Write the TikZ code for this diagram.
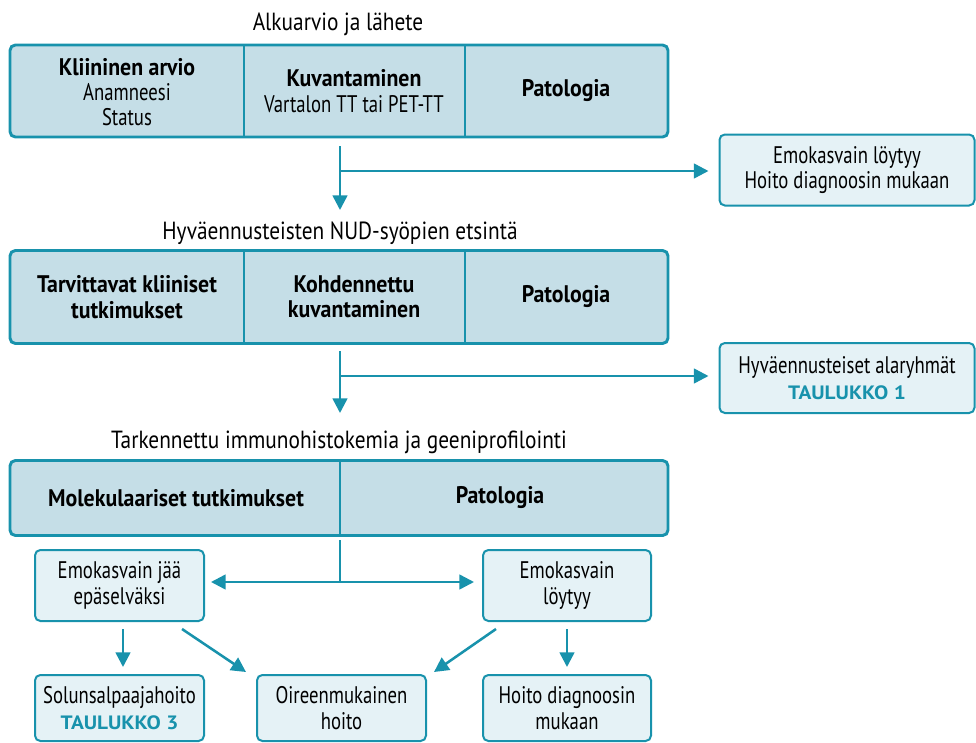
\documentclass[tikz,border=0pt]{standalone}
\usepackage{fontspec}
\setmainfont{PT Sans}[FakeStretch=0.78,BoldFeatures={FakeStretch=0.91}]
\newfontfamily\titlefont{PT Sans}[FakeStretch=0.86]
\newfontfamily\tablefont{PT Sans}[FakeStretch=1.1]
\usetikzlibrary{arrows.meta}
\definecolor{tealline}{RGB}{24,146,172}
\definecolor{cellfill}{RGB}{197,222,231}
\definecolor{notefill}{RGB}{229,242,246}

\begin{document}
\begin{tikzpicture}[x=0.75pt,y=-0.75pt]

\def\px{0.75pt}

\tikzstyle{stage}=[rectangle,draw=tealline,line width=2.2pt,fill=cellfill,rounded corners=4pt,minimum width=658*\px,inner sep=0pt]
\tikzstyle{cell}=[align=center,inner sep=0pt]
\tikzstyle{heading}=[font=\titlefont\fontsize{18.6pt}{20pt}\selectfont]
\tikzstyle{note}=[rectangle,draw=tealline,line width=1.5pt,fill=notefill,rounded corners=4pt,align=center,inner sep=0pt]
\tikzstyle{divider}=[draw=tealline,line width=1.1pt]
\tikzstyle{flow}=[draw=tealline,line width=1.9pt,-{Triangle[length=11pt,width=11pt]}]
\tikzstyle{branch}=[draw=tealline,line width=1.9pt]

\useasboundingbox (0,0) rectangle (976,743);
\tikzset{every node/.style={font=\fontsize{18pt}{19pt}\selectfont}}
\newcommand{\taulukko}[1]{{\tablefont\bfseries\fontsize{14.5pt}{19pt}\selectfont\color{tealline}TAULUKKO #1}}

%Alkuarvio
\node[heading] (title1) at (338,24) {Alkuarvio ja lähete};
\node[stage,minimum height=92*\px] (stage1) at (339,91) {};
\draw[divider] (244,46) -- (244,136);
\draw[divider] (465,46) -- (465,136);
\node[cell] (clinical) at (127,92) {\textbf{Kliininen arvio}\\Anamneesi\\Status};
\node[cell] (imaging) at (354,91) {\textbf{Kuvantaminen}\\Vartalon TT tai PET-TT};
\node[cell] (patho1) at (566,91) {\textbf{Patologia}};

\node[note,minimum width=255*\px,minimum height=71*\px] (found1) at (847,170) {Emokasvain löytyy\\Hoito diagnoosin mukaan};

\coordinate (stem1) at (340,146);
\coordinate (split1) at (340,171);
\draw[flow] (stem1) -- (340,210);
\draw[flow,shorten >=10*\px] (split1) -- (split1 -| found1.west);

%Hyvaennusteiset
\node[heading] (title2) at (340,233) {Hyväennusteisten NUD-syöpien etsintä};
\node[stage,minimum height=93*\px] (stage2) at (339,297) {};
\draw[divider] (244,252) -- (244,342);
\draw[divider] (465,252) -- (465,342);
\node[cell] (clinical2) at (127,297) {\textbf{Tarvittavat kliiniset}\\\textbf{tutkimukset}};
\node[cell] (imaging2) at (354,297) {\textbf{Kohdennettu}\\\textbf{kuvantaminen}};
\node[cell] (patho2) at (566,297) {\textbf{Patologia}};

\node[note,minimum width=255*\px,minimum height=70*\px] (subgroups) at (847,378) {Hyväennusteiset alaryhmät\\\taulukko{1}};

\coordinate (stem2) at (340,351);
\coordinate (split2) at (340,376);
\draw[flow] (stem2) -- (340,413);
\draw[flow,shorten >=10*\px] (split2) -- (split2 -| subgroups.west);

%Tarkennettu
\node[heading] (title3) at (339,442) {Tarkennettu immunohistokemia ja geeniprofilointi};
\node[stage,minimum height=75*\px] (stage3) at (339,498) {};
\draw[divider] (340,462) -- (340,534);
\node[cell] (molecular) at (176,498) {\textbf{Molekulaariset tutkimukset}};
\node[cell] (patho3) at (500,498) {\textbf{Patologia}};

\node[note,minimum width=169*\px,minimum height=71*\px] (unclear) at (119.5,585.5) {Emokasvain jää\\epäselväksi};
\node[note,minimum width=168*\px,minimum height=71*\px] (found2) at (567,585.5) {Emokasvain\\löytyy};

\coordinate (stem3) at (340,540);
\coordinate (fork) at (340,582);
\draw[branch] (stem3) -- (fork);
\draw[flow,shorten >=6*\px] (fork) -- (fork -| unclear.east);
\draw[flow,shorten >=8*\px] (fork) -- (fork -| found2.west);

\node[note,minimum width=169*\px,minimum height=66*\px] (chemo) at (119.5,708) {Solunsalpaajahoito\\\taulukko{3}};
\node[note,minimum width=169*\px,minimum height=66*\px] (symptom) at (341.5,708) {Oireenmukainen\\hoito};
\node[note,minimum width=168*\px,minimum height=66*\px] (diagnosis) at (567,708) {Hoito diagnoosin\\mukaan};

\draw[flow,shorten <=7*\px,shorten >=7*\px] (unclear.south -| 123,0) -- (chemo.north -| 123,0);
\draw[flow] ([shift={(-23,7)}]unclear.south east) -- ([shift={(-10,-2)}]symptom.north west);
\draw[flow] ([shift={(14,7)}]found2.south west) -- ([shift={(7,-2)}]symptom.north east);
\draw[flow,shorten <=7*\px,shorten >=7*\px] (found2.south) -- (diagnosis.north);

\end{tikzpicture}
\end{document}
